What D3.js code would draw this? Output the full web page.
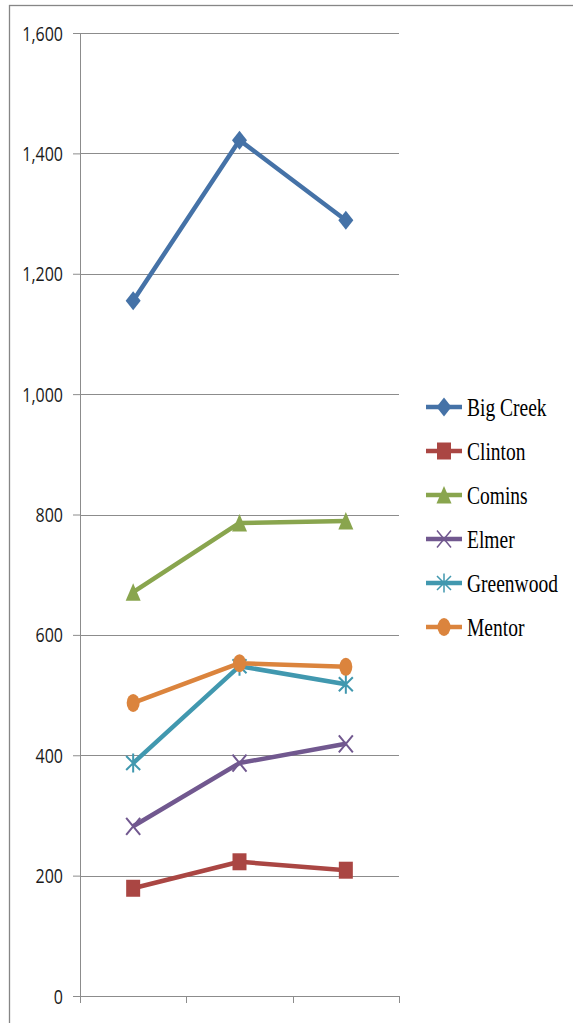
<!DOCTYPE html>
<html>
<head>
<meta charset="utf-8">
<script src="https://cdn.jsdelivr.net/npm/d3@7"></script>
<style>
  body { margin: 0; background: #fff; }
  svg { display: block; }
</style>
</head>
<body>
<div id="chart"></div>
<script>
var svgWidth = 573;
var svgHeight = 1023;

// data
var categories = ["A", "B", "C"];
var seriesNames = ["Big Creek", "Clinton", "Comins", "Elmer", "Greenwood", "Mentor"];
var bigCreek = [1155, 1422, 1289];
var clinton = [179, 223, 209];
var comins = [671, 786, 789];
var elmer = [282, 387, 419];
var greenwood = [387, 548, 518];
var mentor = [487, 553, 547];
var yTicks = [0, 200, 400, 600, 800, 1000, 1200, 1400, 1600];

var colors = ["#4572A7", "#AA4643", "#89A54E", "#71588F", "#4198AF", "#DB843D"];
var shapes = ["diamond", "square", "triangle", "x", "star", "circle"];

var series = [bigCreek, clinton, comins, elmer, greenwood, mentor].map(function(vals, i) {
  return { name: seriesNames[i], values: vals, color: colors[i], shape: shapes[i] };
});

var margin = { top: 33, left: 80 };
var plotW = 319, plotH = 963;

var svg = d3.select("#chart")
  .append("svg")
  .attr("width", svgWidth)
  .attr("height", svgHeight);

// outer chart border
svg.append("rect")
  .attr("x", 9.5).attr("y", 5.5)
  .attr("width", 600).attr("height", 1100)
  .attr("fill", "none")
  .attr("stroke", "#868686")
  .attr("stroke-width", 1.3);

var chartGroup = svg.append("g")
  .attr("transform", `translate(${margin.left}, ${margin.top})`);

var xScale = d3.scaleBand()
  .domain(categories)
  .range([0, plotW]);

var yScale = d3.scaleLinear()
  .domain([0, 1600])
  .range([plotH, 0]);

// gridlines
chartGroup.selectAll(".grid")
  .data(yTicks.filter(function(d) { return d > 0; }))
  .enter()
  .append("line")
  .attr("x1", 0).attr("x2", plotW)
  .attr("y1", d => Math.round(yScale(d)) + 0.5)
  .attr("y2", d => Math.round(yScale(d)) + 0.5)
  .attr("stroke", "#8c8c8c")
  .attr("stroke-width", 1);

// y axis
var yAxis = d3.axisLeft(yScale)
  .tickValues(yTicks)
  .tickSize(7)
  .tickPadding(10)
  .tickFormat(d3.format(","));

var yG = chartGroup.append("g").call(yAxis);
yG.select(".domain").attr("stroke", "#8c8c8c").attr("d", `M0.5,0V${plotH}`);
yG.selectAll(".tick line").attr("stroke", "#8c8c8c");
yG.selectAll(".tick text")
  .attr("fill", "#1a1a1a")
  .style("font-family", "'Open Sans', sans-serif")
  .style("font-size", "20px")
  .attr("transform", "scale(0.8,1)")
  .attr("x", -17 / 0.8)
  .attr("dy", "0.35em");

// x axis (no labels)
var xAxis = d3.axisBottom(xScale).tickSize(0).tickFormat("");
var xG = chartGroup.append("g")
  .attr("transform", `translate(0, ${plotH})`)
  .call(xAxis);
xG.select(".domain").attr("stroke", "#8c8c8c").attr("d", `M0,0.5H${plotW}`);
xG.selectAll(".xtick")
  .data(d3.range(categories.length + 1))
  .enter()
  .append("line")
  .attr("x1", d => Math.round(d * xScale.bandwidth()) + 0.5)
  .attr("x2", d => Math.round(d * xScale.bandwidth()) + 0.5)
  .attr("y1", 0).attr("y2", 7)
  .attr("stroke", "#8c8c8c");

// excel-like marker shapes (a bit taller than wide, like the picture)
function symbolFor(shape) {
  if (shape === "diamond") return "M0,-9.5L7.5,0L0,9.5L-7.5,0Z";
  if (shape === "square") return "M-7,-8.5H7V8.5H-7Z";
  if (shape === "triangle") return "M0,-9L7.5,8.5H-7.5Z";
  if (shape === "x") return "M-7,-8.5L7,8.5M7,-8.5L-7,8.5";
  if (shape === "star") return "M-7,-7L7,7M7,-7L-7,7M0,-9.5V9.5";
  return "M-6.5,0A6.5,9,0,1,0,6.5,0A6.5,9,0,1,0,-6.5,0Z";
}

var isStroke = { x: true, star: true };

var line = d3.line()
  .x((d, i) => xScale(categories[i]) + xScale.bandwidth() / 2)
  .y(d => yScale(d));

series.forEach(function(s) {
  var g = chartGroup.append("g");
  g.append("path")
    .attr("d", line(s.values))
    .attr("fill", "none")
    .attr("stroke", s.color)
    .attr("stroke-width", 4.5)
    .attr("stroke-linejoin", "round");

  g.selectAll(".marker")
    .data(s.values)
    .enter()
    .append("path")
    .attr("d", symbolFor(s.shape))
    .attr("transform", (d, i) =>
      `translate(${xScale(categories[i]) + xScale.bandwidth() / 2}, ${yScale(d)})`)
    .attr("fill", isStroke[s.shape] ? "none" : s.color)
    .attr("stroke", s.color)
    .attr("stroke-width", isStroke[s.shape] ? 2 : 0);
});

// legend
var legend = svg.append("g").attr("transform", "translate(426, 407)");
var items = legend.selectAll(".item")
  .data(series)
  .enter()
  .append("g")
  .attr("transform", (d, i) => `translate(0, ${i * 44})`);

items.append("line")
  .attr("x1", 0).attr("x2", 36)
  .attr("y1", 0).attr("y2", 0)
  .attr("stroke", d => d.color)
  .attr("stroke-width", 4.5);

items.append("path")
  .attr("d", d => symbolFor(d.shape))
  .attr("transform", "translate(18,0)")
  .attr("fill", d => isStroke[d.shape] ? "none" : d.color)
  .attr("stroke", d => d.color)
  .attr("stroke-width", d => isStroke[d.shape] ? 1.5 : 0);

items.append("text")
  .attr("transform", "translate(41,0) scale(0.78,1)")
  .attr("dy", "0.35em")
  .style("font-family", "'Liberation Serif', 'Times New Roman', serif")
  .style("font-size", "25px")
  .attr("fill", "#000")
  .text(d => d.name);
</script>
</body>
</html>
